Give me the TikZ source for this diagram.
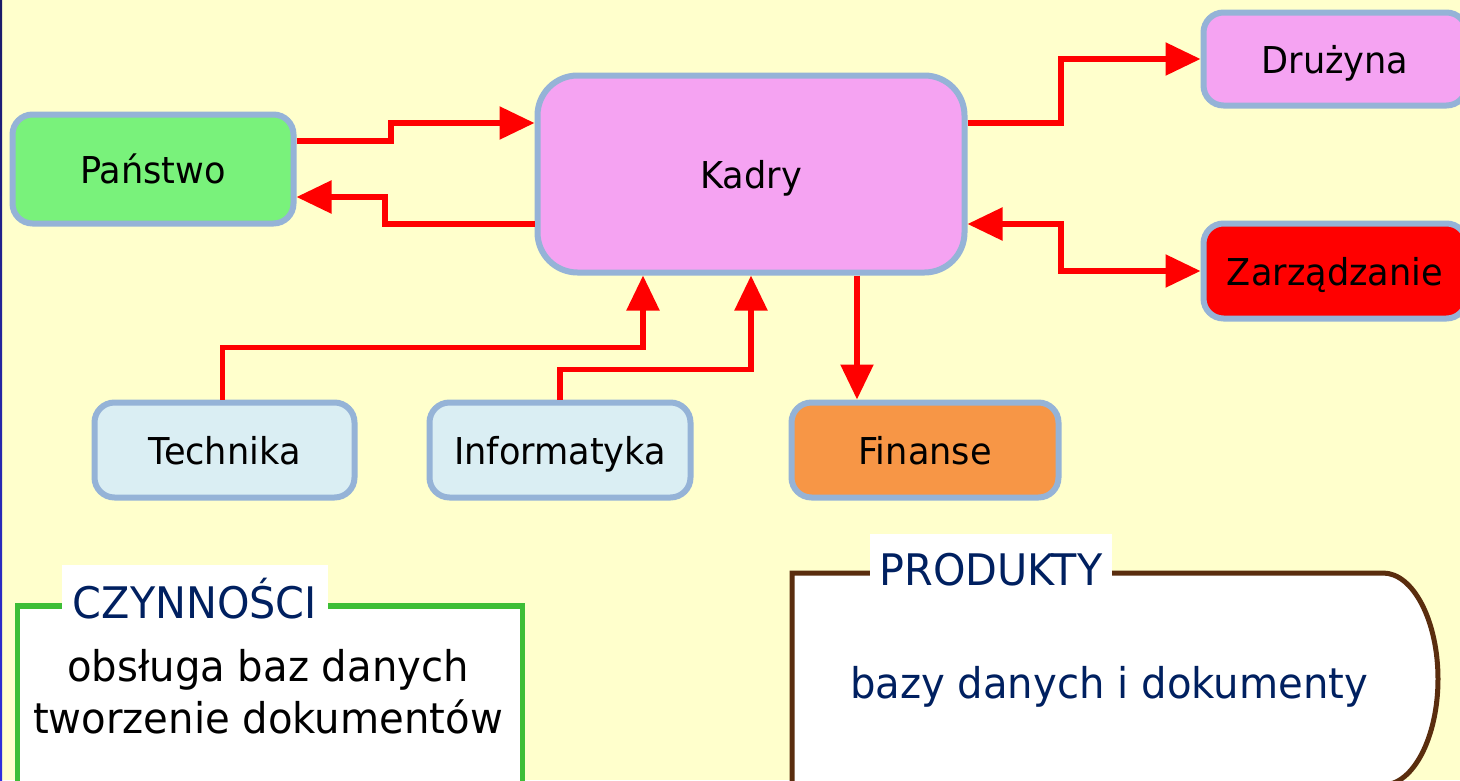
\documentclass[tikz,border=0pt]{standalone}
\usepackage{fontspec}
\setmainfont{DejaVu Sans}[FakeStretch=0.95]
\usetikzlibrary{arrows.meta}

\definecolor{pagebg}{HTML}{FFFFCC}
\definecolor{edgeblue}{HTML}{95B3D7}
\definecolor{stategreen}{HTML}{79F27B}
\definecolor{staffpink}{HTML}{F5A3F2}
\definecolor{mgmtred}{HTML}{FF0000}
\definecolor{techblue}{HTML}{DAEEF3}
\definecolor{finorange}{HTML}{F79646}
\definecolor{linkred}{HTML}{FF0000}
\definecolor{navytext}{HTML}{002060}
\definecolor{actgreen}{HTML}{3DBE36}
\definecolor{prodbrown}{HTML}{5A2D0E}
\definecolor{railtop}{HTML}{1A1A66}
\definecolor{railbottom}{HTML}{3030E0}

\tikzset{
  box/.style={draw=edgeblue, line width=6pt, rounded corners=20pt, inner sep=0pt,
    font=\fontsize{37}{44}\selectfont, text height=34pt, text depth=5pt},
  link/.style={draw=linkred, line width=5.5pt, -{Triangle[length=35pt,width=32pt]}},
  caption/.style={fill=white, inner sep=0pt, align=center, text=navytext,
    font=\fontsize{43.5}{50}\selectfont, text depth=10pt, anchor=base},
  bodytext/.style={align=center, inner sep=0pt, font=\fontsize{42.3}{52}\selectfont},
}

\begin{document}
\begin{tikzpicture}[x=1pt,y=-1pt]
  \useasboundingbox (0,0) rectangle (1460,780);
  \clip (0,0) rectangle (1460,780);
  \fill[pagebg] (0,0) rectangle (1460,780);
  \shade[top color=railtop, bottom color=railbottom] (0,0) rectangle (2,780);

  % departments
  \node[box, fill=stategreen, minimum width=281pt, minimum height=109pt] (pan) at (153,169) {Państwo};
  \node[box, fill=staffpink, rounded corners=40pt, minimum width=427pt, minimum height=197pt] (kad) at (751,174) {Kadry};
  \node[box, fill=staffpink, minimum width=263pt, minimum height=93pt] (dru) at (1335,59) {Drużyna};
  \node[box, fill=mgmtred, minimum width=263pt, minimum height=95pt] (zar) at (1335,271) {Zarządzanie};
  \node[box, fill=techblue, minimum width=260pt, minimum height=95pt] (tech) at (224.5,450) {Technika};
  \node[box, fill=techblue, minimum width=261pt, minimum height=95pt] (inf) at (560,450) {Informatyka};
  \node[box, fill=finorange, minimum width=267pt, minimum height=95pt] (fin) at (925,450) {Finanse};

  % flows between departments
  \draw[link] ([yshift=28pt]pan.east) -- ++(94.5,0) |- ([yshift=51pt]kad.west);
  \draw[link] ([yshift=-50pt]kad.west) -- ++(-149.5,0) |- ([yshift=-28pt]pan.east);
  \draw[link] ([yshift=51pt]kad.east) -- ++(93.5,0) |- (dru.west);
  \draw[link, {Triangle[length=35pt,width=32pt]}-{Triangle[length=35pt,width=32pt]}]
    ([yshift=-50pt]kad.east) -- ++(93.5,0) |- (zar.west);
  \draw[link] ([xshift=-2pt]tech.north) -- ++(0,-52) -| ([xshift=-108pt]kad.south);
  \draw[link] (inf.north) -- ++(0,-30) -| (kad.south);
  \draw[link] ([xshift=106pt]kad.south) -- ([xshift=-68pt]fin.north);

  % activities panel
  \node[draw=actgreen, line width=5.5pt, fill=white, inner sep=0pt, anchor=north west,
    minimum width=505pt, minimum height=230pt] (czyn) at (14.5,603) {};
  \node[caption, text width=266pt, text height=53pt] (czyntitle) at (195,618) {CZYNNOŚCI};
  \node[bodytext] (czyntext) at (268,692) {obsługa baz danych\\tworzenie dokumentów};

  % products panel
  \draw[draw=prodbrown, line width=5pt, fill=white]
    (792,800) -- (792,573) -- (1383,573)
    .. controls (1413.4,573) and (1438,621.2) .. (1438,679)
    .. controls (1438,736.8) and (1413.4,785) .. (1383,785);
  \node[caption, text width=242pt, text height=51pt] (prodtitle) at (991,585) {PRODUKTY};
  \node[bodytext, text=navytext, anchor=base] (prodtext) at (1109,698) {bazy danych i dokumenty};
\end{tikzpicture}
\end{document}
